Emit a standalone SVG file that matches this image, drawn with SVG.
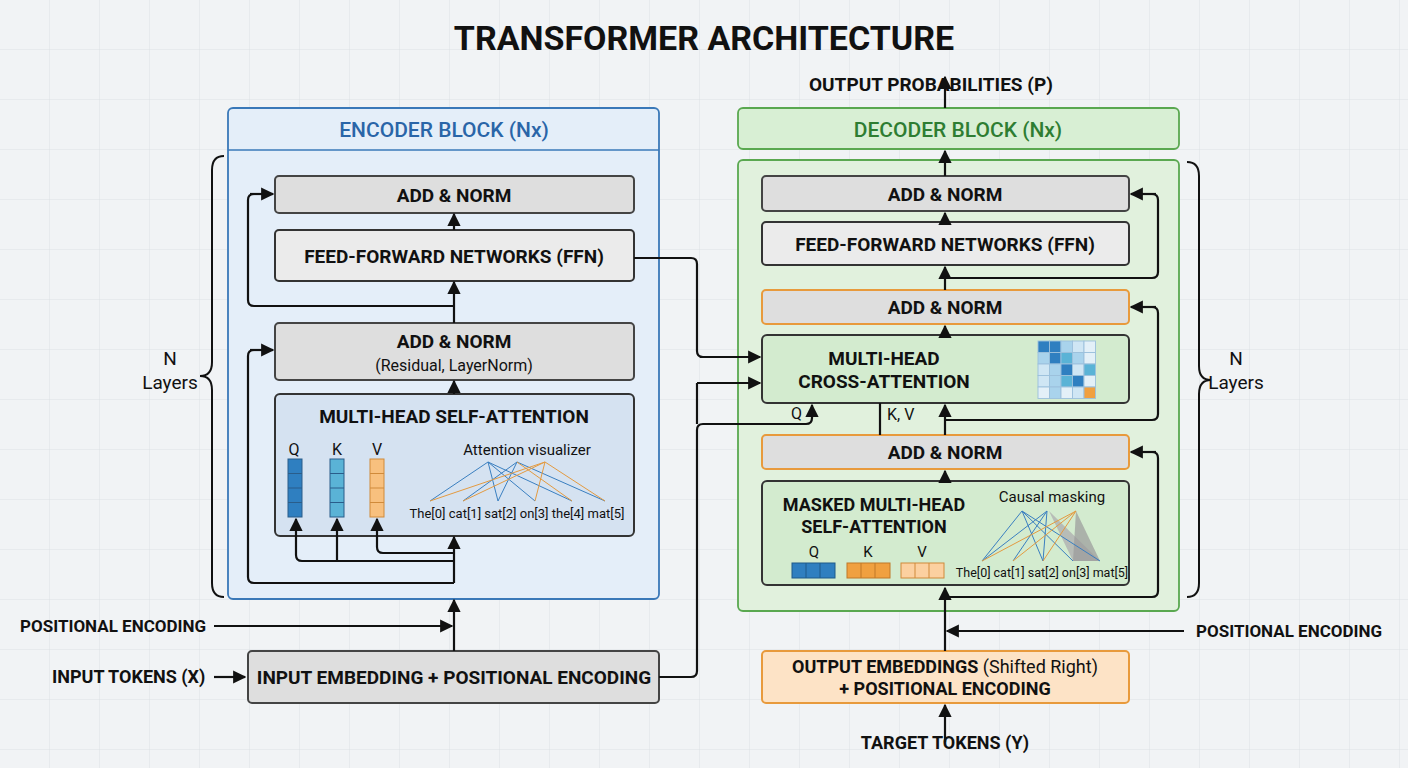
<svg xmlns="http://www.w3.org/2000/svg" width="1408" height="768" viewBox="0 0 1408 768">
<defs>
<pattern id="grid" width="50" height="50" patternUnits="userSpaceOnUse"><path d="M50 0V50H0" fill="none" stroke="#dde1e5" stroke-width="1"/></pattern>
<marker id="ah" viewBox="0 0 10 10" refX="9" refY="5" markerWidth="6" markerHeight="6" orient="auto"><path d="M0 0L10 5L0 10z" fill="#111"/></marker>
<style>
text{font-family:Roboto,"Liberation Sans",sans-serif;fill:#111}
.b{font-weight:bold}
.box{fill:#dedede;stroke:#444;stroke-width:2}
.ob{fill:#dedede;stroke:#e89a3c;stroke-width:2}
.c{stroke:#111;stroke-width:2.2;fill:none}
.ca{stroke:#111;stroke-width:2.2;fill:none;marker-end:url(#ah)}
.lb{stroke:#3a7fc0;stroke-width:1}
.lo{stroke:#e39a40;stroke-width:1}
</style>
</defs>
<rect width="1408" height="768" fill="#f1f3f5"/>
<rect width="1408" height="768" fill="url(#grid)"/>
<text x="704" y="50" text-anchor="middle" class="b" font-size="34">TRANSFORMER ARCHITECTURE</text>

<g id="encoder">
<rect x="228" y="108" width="431" height="491" rx="5" fill="#e4eef9" stroke="#3a78b8" stroke-width="1.8"/>
<line x1="228" y1="150" x2="659" y2="150" stroke="#3a78b8" stroke-width="1.5"/>
<text x="444" y="137" text-anchor="middle" font-size="21" font-weight="500" style="fill:#2a65a8">ENCODER BLOCK (Nx)</text>
</g>
<g id="enc-addnorm2"><rect class="box" x="275" y="176" width="359" height="37" rx="4"/><text x="454" y="202" text-anchor="middle" class="b" font-size="19">ADD &amp; NORM</text></g>
<g id="enc-ffn"><rect x="275" y="230" width="359" height="51" rx="4" fill="#ebebeb" stroke="#333" stroke-width="2"/><text x="454" y="263" text-anchor="middle" class="b" font-size="19">FEED-FORWARD NETWORKS (FFN)</text></g>
<g id="enc-addnorm1"><rect class="box" x="275" y="323" width="359" height="57" rx="4"/><text x="454" y="348" text-anchor="middle" class="b" font-size="19">ADD &amp; NORM</text><text x="454" y="371" text-anchor="middle" font-size="16">(Residual, LayerNorm)</text></g>
<g id="enc-mhsa">
<rect x="275" y="394" width="359" height="142" rx="5" fill="#d5e2f1" stroke="#333" stroke-width="2"/>
<text x="454" y="423" text-anchor="middle" class="b" font-size="19">MULTI-HEAD SELF-ATTENTION</text>
<text x="294" y="455" text-anchor="middle" font-size="16">Q</text><text x="337" y="455" text-anchor="middle" font-size="16">K</text><text x="377" y="455" text-anchor="middle" font-size="16">V</text>
<g stroke="#2a5d8a" stroke-width="1"><rect x="288" y="459" width="14" height="58" fill="#2f7fc0"/><rect x="330" y="459" width="14" height="58" fill="#5ab3d6"/><rect x="370" y="459" width="14" height="58" fill="#f8c07e" stroke="#d08a3a"/>
<path d="M288 473.5h14M288 488h14M288 502.5h14M330 473.5h14M330 488h14M330 502.5h14"/><path d="M370 473.5h14M370 488h14M370 502.5h14" stroke="#d08a3a"/></g>
<text x="527" y="455" text-anchor="middle" font-size="15">Attention visualizer</text>
<g><path class="lb" d="M488 462L430 501M488 462L498 501M488 462L572 501M488 462L535 501M517 462L463 501M517 462L605 501M517 462L498 501"/>
<path class="lo" d="M545 462L463 501M545 462L535 501M545 462L605 501M545 462L430 501M517 462L572 501"/></g>
<text x="517" y="518" text-anchor="middle" font-size="13">The[0] cat[1] sat[2] on[3] the[4] mat[5]</text>
</g>
<g id="enc-input"><rect class="box" x="248" y="651" width="411" height="52" rx="4"/><text x="454" y="684" text-anchor="middle" class="b" font-size="19">INPUT EMBEDDING + POSITIONAL ENCODING</text></g>
<g id="lbl-left"><text x="20" y="632" class="b" font-size="17">POSITIONAL ENCODING</text><text x="52" y="683" class="b" font-size="18">INPUT TOKENS (X)</text>
<text x="170" y="365" text-anchor="middle" font-size="19">N</text><text x="170" y="389" text-anchor="middle" font-size="19">Layers</text>
<path d="M224 156Q212 156 212 170V362Q212 376 200 376Q212 376 212 390V583Q212 597 224 597" fill="none" stroke="#111" stroke-width="2"/></g>

<g id="decoder">
<rect x="738" y="108" width="441" height="41" rx="5" fill="#d8efd4" stroke="#5aa850" stroke-width="1.8"/>
<text x="958" y="137" text-anchor="middle" font-size="21" font-weight="500" style="fill:#2e7d32">DECODER BLOCK (Nx)</text>
<rect x="738" y="160" width="441" height="451" rx="5" fill="#e1f1dd" stroke="#5aa850" stroke-width="1.8"/>
</g>
<g id="dec-addnorm3"><rect class="box" x="762" y="176" width="367" height="35" rx="4"/><text x="945" y="201" text-anchor="middle" class="b" font-size="19">ADD &amp; NORM</text></g>
<g id="dec-ffn"><rect x="762" y="222" width="367" height="43" rx="4" fill="#ebebeb" stroke="#333" stroke-width="2"/><text x="945" y="251" text-anchor="middle" class="b" font-size="19">FEED-FORWARD NETWORKS (FFN)</text></g>
<g id="dec-addnorm2"><rect class="ob" x="762" y="290" width="367" height="34" rx="4"/><text x="945" y="314" text-anchor="middle" class="b" font-size="19">ADD &amp; NORM</text></g>
<g id="dec-cross">
<rect x="762" y="335" width="367" height="68" rx="5" fill="#d3ebcf" stroke="#333" stroke-width="2"/>
<text x="884" y="365" text-anchor="middle" class="b" font-size="19">MULTI-HEAD</text><text x="884" y="388" text-anchor="middle" class="b" font-size="19">CROSS-ATTENTION</text>
<g stroke="#9cc0dc" stroke-width="0.8" transform="translate(1038 341) scale(1.15) translate(-1038 -341)">
<rect x="1038" y="341" width="10" height="10" fill="#2f7fc0"/><rect x="1048" y="341" width="10" height="10" fill="#2f7fc0"/><rect x="1058" y="341" width="10" height="10" fill="#a9d3ec"/><rect x="1068" y="341" width="10" height="10" fill="#cfe6f4"/><rect x="1078" y="341" width="10" height="10" fill="#e3f0f8"/>
<rect x="1038" y="351" width="10" height="10" fill="#a9d3ec"/><rect x="1048" y="351" width="10" height="10" fill="#2f7fc0"/><rect x="1058" y="351" width="10" height="10" fill="#5ab3d6"/><rect x="1068" y="351" width="10" height="10" fill="#a9d3ec"/><rect x="1078" y="351" width="10" height="10" fill="#e3f0f8"/>
<rect x="1038" y="361" width="10" height="10" fill="#cfe6f4"/><rect x="1048" y="361" width="10" height="10" fill="#a9d3ec"/><rect x="1058" y="361" width="10" height="10" fill="#2f7fc0"/><rect x="1068" y="361" width="10" height="10" fill="#cfe6f4"/><rect x="1078" y="361" width="10" height="10" fill="#5ab3d6"/>
<rect x="1038" y="371" width="10" height="10" fill="#cfe6f4"/><rect x="1048" y="371" width="10" height="10" fill="#a9d3ec"/><rect x="1058" y="371" width="10" height="10" fill="#5ab3d6"/><rect x="1068" y="371" width="10" height="10" fill="#2f7fc0"/><rect x="1078" y="371" width="10" height="10" fill="#e3f0f8"/>
<rect x="1038" y="381" width="10" height="10" fill="#e3f0f8"/><rect x="1048" y="381" width="10" height="10" fill="#a9d3ec"/><rect x="1058" y="381" width="10" height="10" fill="#e3f0f8"/><rect x="1068" y="381" width="10" height="10" fill="#cfe6f4"/><rect x="1078" y="381" width="10" height="10" fill="#f0a040"/>
</g></g>
<g id="dec-addnorm1"><rect class="ob" x="762" y="435" width="367" height="34" rx="4"/><text x="945" y="459" text-anchor="middle" class="b" font-size="19">ADD &amp; NORM</text></g>
<g id="dec-masked">
<rect x="762" y="481" width="367" height="104" rx="5" fill="#d3ebcf" stroke="#333" stroke-width="2"/>
<text x="874" y="511" text-anchor="middle" class="b" font-size="18">MASKED MULTI-HEAD</text><text x="874" y="533" text-anchor="middle" class="b" font-size="18">SELF-ATTENTION</text>
<text x="814" y="557" text-anchor="middle" font-size="15">Q</text><text x="868" y="557" text-anchor="middle" font-size="15">K</text><text x="922" y="557" text-anchor="middle" font-size="15">V</text>
<g stroke-width="1"><rect x="792" y="563" width="43" height="15" fill="#2f7fc0" stroke="#1f5a8a"/><path d="M806 563v15M820 563v15" stroke="#1f5a8a"/>
<rect x="847" y="563" width="43" height="15" fill="#f0a040" stroke="#c07828"/><path d="M861 563v15M875 563v15" stroke="#c07828"/>
<rect x="901" y="563" width="43" height="15" fill="#fcd0a0" stroke="#d08a3a"/><path d="M915 563v15M929 563v15" stroke="#d08a3a"/></g>
<text x="1052" y="502" text-anchor="middle" font-size="15">Causal masking</text>
<path d="M1049 511L1100 561L1073 561Z" fill="#b0b0b0" opacity="0.8"/>
<path d="M1076 511L1100 561L1073 561Z" fill="#9a9a9a" opacity="0.7"/>
<path class="lb" d="M1022 511L982 561M1022 511L1043 561M1022 511L1073 561M1022 511L1100 561M1047 511L1013 561M1047 511L1043 561M1047 511L982 561"/>
<path class="lo" d="M1076 511L982 561M1076 511L1013 561M1076 511L1043 561"/>
<text x="1042" y="577" text-anchor="middle" font-size="12.5">The[0] cat[1] sat[2] on[3] mat[5]</text>
</g>
<g id="dec-output-emb"><rect x="762" y="651" width="367" height="52" rx="4" fill="#fde3c6" stroke="#e89a3c" stroke-width="2"/>
<text x="945" y="673" text-anchor="middle" font-size="18"><tspan class="b">OUTPUT EMBEDDINGS</tspan> (Shifted Right)</text><text x="945" y="695" text-anchor="middle" class="b" font-size="18">+ POSITIONAL ENCODING</text></g>
<g id="lbl-right"><text x="809" y="91" class="b" font-size="19">OUTPUT PROBABILITIES (P)</text><text x="1196" y="637" class="b" font-size="17">POSITIONAL ENCODING</text><text x="945" y="749" text-anchor="middle" class="b" font-size="18">TARGET TOKENS (Y)</text>
<text x="1236" y="365" text-anchor="middle" font-size="19">N</text><text x="1236" y="389" text-anchor="middle" font-size="19">Layers</text>
<path d="M1187 162Q1199 162 1199 176V366Q1199 380 1211 380Q1199 380 1199 394V583Q1199 597 1187 597" fill="none" stroke="#111" stroke-width="2"/>
<text x="791" y="419" font-size="16">Q</text><text x="887" y="420" font-size="16">K, V</text></g>

<g id="connectors">
<path class="ca" d="M214 626H452"/>
<path class="ca" d="M214 677H245"/>
<path class="ca" d="M454 651V600"/>
<path class="ca" d="M454 583V537"/>
<path class="c" d="M454 583H254Q248 583 248 577V356Q248 350 254 350"/><path class="ca" d="M250 350H273"/>
<path class="c" d="M454 561H302Q296 561 296 555"/><path class="ca" d="M296 555V519"/>
<path class="ca" d="M337 561V519"/>
<path class="c" d="M454 553H383Q377 553 377 547"/><path class="ca" d="M377 547V519"/>
<path class="ca" d="M454 394V381"/>
<path class="ca" d="M454 323V282"/>
<path class="c" d="M454 306H254Q248 306 248 300V200Q248 194 254 194"/><path class="ca" d="M250 194H273"/>
<path class="ca" d="M454 230V214"/>
<path class="c" d="M634 258H691Q697 258 697 264V351Q697 357 703 357"/><path class="ca" d="M700 357H760"/>
<path class="c" d="M659 677H691Q697 677 697 671V430Q697 424 703 424H806Q812 424 812 418"/><path class="ca" d="M812 418V405"/>
<path class="ca" d="M697 383H760"/>
<path class="c" d="M697 383V424"/>
<path class="ca" d="M945 742V705"/>
<path class="ca" d="M1184 631H947"/>
<path class="ca" d="M945 651V588"/>
<path class="c" d="M945 597H1152Q1158 597 1158 591V458Q1158 452 1152 452"/><path class="ca" d="M1156 452H1131"/>
<path class="ca" d="M945 481V471"/>
<path class="c" d="M880 435V403"/>
<path class="ca" d="M945 435V405"/>
<path class="c" d="M945 420H1152Q1158 420 1158 414V313Q1158 307 1152 307"/><path class="ca" d="M1156 307H1131"/>
<path class="ca" d="M945 335V326"/>
<path class="ca" d="M945 290V267"/>
<path class="c" d="M945 278H1152Q1158 278 1158 272V200Q1158 194 1152 194"/><path class="ca" d="M1156 194H1131"/>
<path class="ca" d="M945 222V213"/>
<path class="ca" d="M945 176V151"/>
<path class="ca" d="M945 108V77"/>
</g>
</svg>
